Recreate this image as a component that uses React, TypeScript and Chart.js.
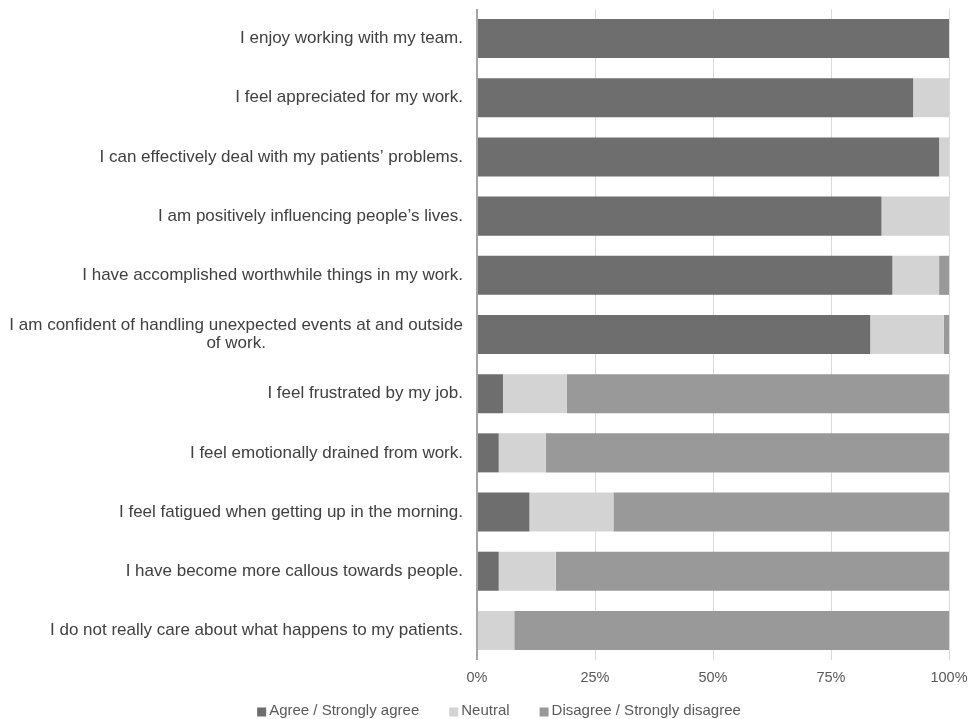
import React, { useEffect, useRef } from "react";
import { Chart, registerables } from "chart.js";

Chart.register(...registerables);

const categories: (string | string[])[] = [
  "I enjoy working with my team.",
  "I feel appreciated for my work.",
  "I can effectively deal with my patients\u2019 problems.",
  "I am positively influencing people\u2019s lives.",
  "I have accomplished worthwhile things in my work.",
  ["I am confident of handling unexpected events at and outside", "of work."],
  "I feel frustrated by my job.",
  "I feel emotionally drained from work.",
  "I feel fatigued when getting up in the morning.",
  "I have become more callous towards people.",
  "I do not really care about what happens to my patients.",
];

const agree = [100, 92.4, 97.9, 85.7, 88.0, 83.3, 5.5, 4.6, 11.1, 4.6, 0];
const neutral = [0, 7.6, 2.1, 14.3, 9.9, 15.6, 13.5, 10.0, 17.8, 12.1, 7.9];
const disagree = [0, 0, 0, 0, 2.1, 1.1, 81.0, 85.4, 71.1, 83.3, 92.1];

const xTicks = [0, 25, 50, 75, 100];

const FONT = "'Liberation Sans', Arial, sans-serif";

const labelPlugin = {
  id: "customLabels",
  afterDraw(chart: any) {
    const ctx = chart.ctx;
    const y = chart.scales.y;
    ctx.save();
    // category labels
    ctx.font = `17px ${FONT}`;
    ctx.fillStyle = "#404040";
    ctx.textBaseline = "middle";
    const rightX = chart.chartArea.left - 14;
    (chart.data.labels as any[]).forEach((lab, i) => {
      const cy = y.getPixelForValue(i);
      if (Array.isArray(lab)) {
        const lh = 18;
        const maxW = Math.max(...lab.map((l: string) => ctx.measureText(l).width));
        const cx = rightX - maxW / 2;
        ctx.textAlign = "center";
        lab.forEach((l: string, k: number) => {
          ctx.fillText(l, cx, cy + (k - (lab.length - 1) / 2) * lh);
        });
      } else {
        ctx.textAlign = "right";
        ctx.fillText(lab, rightX, cy);
      }
    });
    // legend
    ctx.font = `15px ${FONT}`;
    ctx.textAlign = "left";
    const items = chart.data.datasets.map((d: any) => ({
      label: d.label,
      color: d.backgroundColor,
      w: ctx.measureText(d.label).width,
    }));
    const box = 9;
    const gap = 3;
    const sep = 30;
    const total = items.reduce((s: number, it: any) => s + box + gap + it.w, 0) + sep * (items.length - 1);
    let x = 499 - total / 2;
    const ly = 711;
    items.forEach((it: any) => {
      ctx.fillStyle = it.color;
      ctx.fillRect(x, ly - 3.5, box, box);
      x += box + gap;
      ctx.fillStyle = "#595959";
      ctx.fillText(it.label, x, ly);
      x += it.w + sep;
    });
    ctx.restore();
  },
};

export default function App() {
  const ref = useRef<HTMLCanvasElement | null>(null);
  useEffect(() => {
    document.body.style.margin = "0";
    const ctx = ref.current!;
    const chart = new Chart(ctx, {
      type: "bar",
      data: {
        labels: categories,
        datasets: [
          { label: "Agree / Strongly agree", data: agree, backgroundColor: "#6e6e6e" },
          { label: "Neutral", data: neutral, backgroundColor: "#d3d3d3" },
          { label: "Disagree / Strongly disagree", data: disagree, backgroundColor: "#999999" },
        ],
      },
      options: {
        indexAxis: "y",
        animation: false,
        responsive: false,
        maintainAspectRatio: false,
        layout: { padding: { top: 9, right: 21, left: 0, bottom: 29 } },
        datasets: { bar: { categoryPercentage: 1, barPercentage: 0.66, borderWidth: 0 } },
        scales: {
          x: {
            stacked: true,
            min: 0,
            max: 100,
            afterBuildTicks: (s: any) => {
              s.ticks = xTicks.map((v) => ({ value: v }));
            },
            afterFit: (s: any) => {
              s.height = 30;
              s.paddingLeft = 0;
              s.paddingRight = 0;
            },
            border: { display: false },
            grid: {
              color: (c: any) => (c.tick && c.tick.value === 0 ? "#a6a6a6" : "#d9d9d9"),
              lineWidth: (c: any) => (c.tick && c.tick.value === 0 ? 2 : 1),
              drawTicks: false,
            },
            ticks: {
              callback: (v: any) => v + "%",
              color: "#595959",
              font: { family: FONT, size: 14.5 },
              padding: 9,
              maxRotation: 0,
            },
          },
          y: {
            stacked: true,
            afterFit: (s: any) => {
              s.width = 477;
              s.paddingTop = 0;
              s.paddingBottom = 0;
            },
            border: { display: false },
            grid: { display: false, drawTicks: false },
            ticks: { display: false, autoSkip: false },
          },
        },
        plugins: {
          legend: { display: false },
          tooltip: { enabled: false },
        },
      },
      plugins: [labelPlugin],
    });
    return () => chart.destroy();
  }, []);
  return (
    <div style={{ width: 970, height: 719 }}>
      <canvas ref={ref} width={970} height={719} style={{ display: "block" }} />
    </div>
  );
}
